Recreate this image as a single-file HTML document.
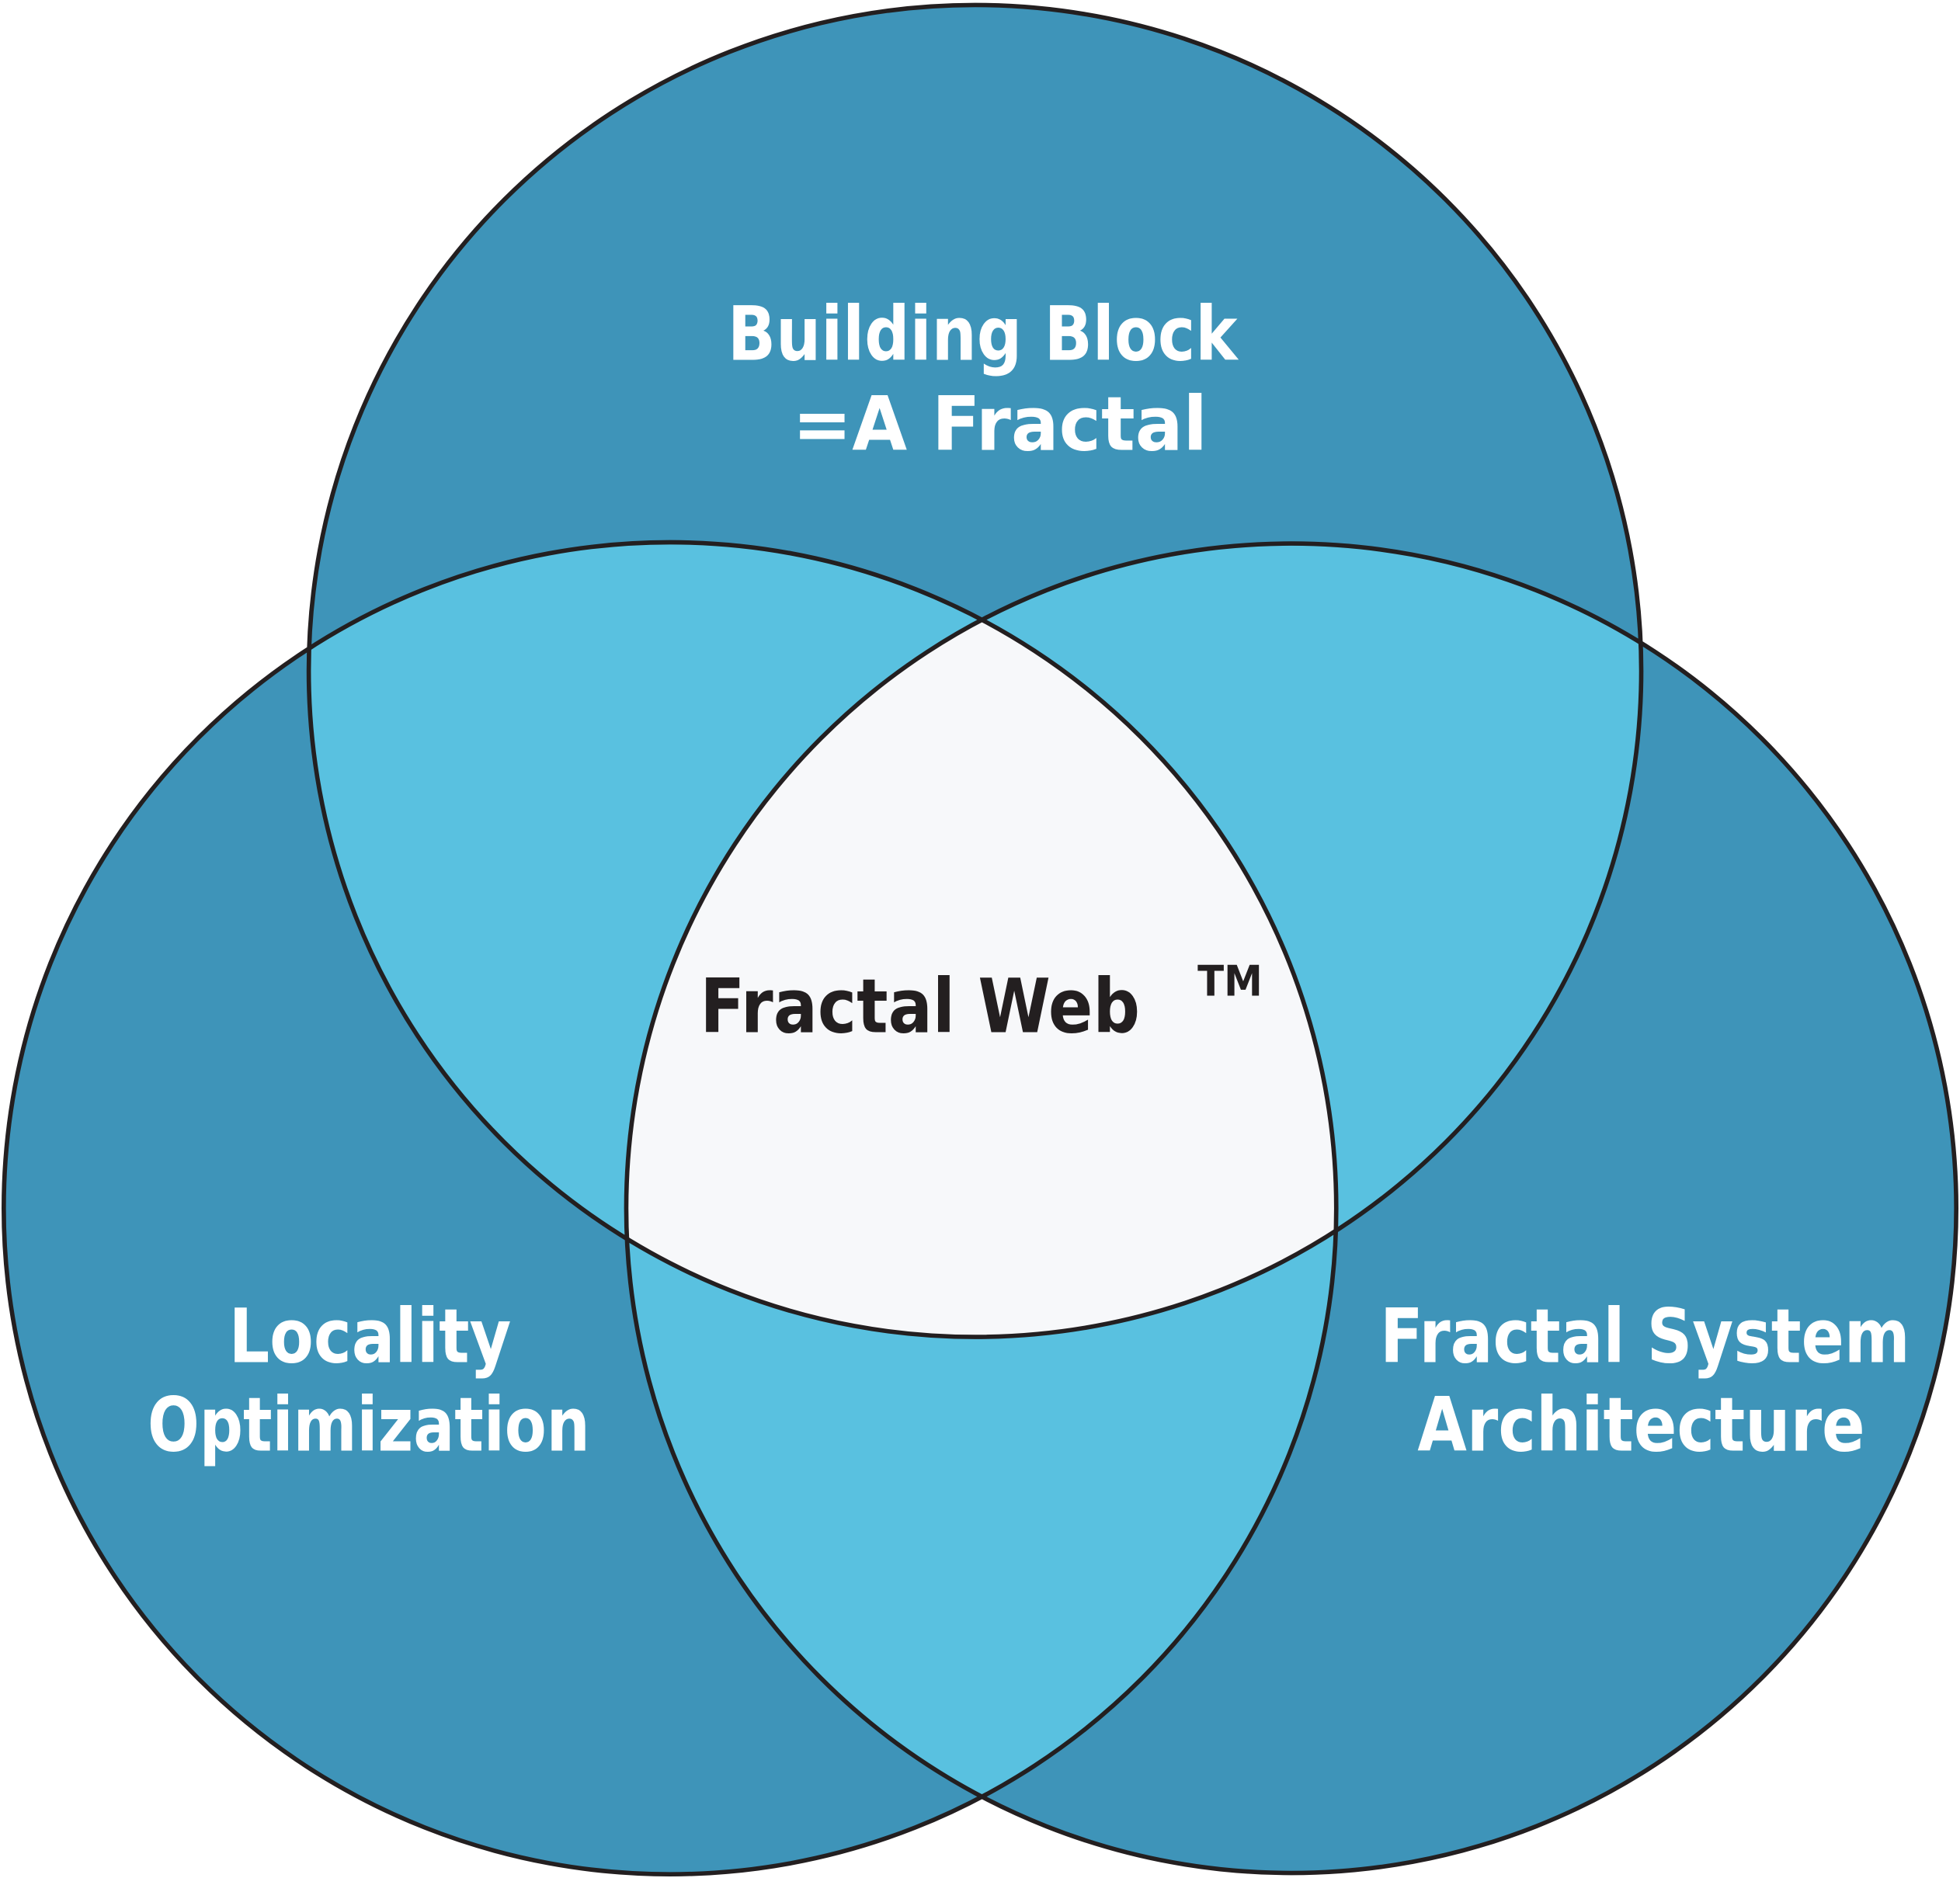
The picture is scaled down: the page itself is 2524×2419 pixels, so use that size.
<!DOCTYPE html>
<html><head><meta charset="utf-8"><style>html,body{margin:0;padding:0;background:#fff}svg{display:block}</style></head>
<body>
<svg width="2524" height="2419" viewBox="0 0 1568 1503" preserveAspectRatio="none" xmlns="http://www.w3.org/2000/svg">
<defs>
<clipPath id="cT"><circle cx="780" cy="537" r="533"/></clipPath>
<clipPath id="cL"><circle cx="536" cy="967" r="533"/></clipPath>
<clipPath id="cR"><circle cx="1033" cy="967" r="532"/></clipPath>
</defs>
<circle cx="780" cy="537" r="533" fill="#3E94B9"/>
<circle cx="536" cy="967" r="533" fill="#3E94B9"/>
<circle cx="1033" cy="967" r="532" fill="#3E94B9"/>
<g clip-path="url(#cT)"><circle cx="536" cy="967" r="533" fill="#59C1E0"/><circle cx="1033" cy="967" r="532" fill="#59C1E0"/></g>
<g clip-path="url(#cL)"><circle cx="1033" cy="967" r="532" fill="#59C1E0"/></g>
<g clip-path="url(#cT)"><g clip-path="url(#cL)"><circle cx="1033" cy="967" r="532" fill="#F7F8FA"/></g></g>
<g fill="none" stroke="#231F20" stroke-width="3.5">
<circle cx="780" cy="537" r="533"/>
<circle cx="536" cy="967" r="533"/>
<circle cx="1033" cy="967" r="532"/>
</g>
<g font-family="'DejaVu Sans','Liberation Sans',sans-serif" font-weight="bold" font-size="60" fill="#fff">
<text x="582" y="288" textLength="408" lengthAdjust="spacingAndGlyphs">Building Block</text>
<text x="634" y="360" textLength="332" lengthAdjust="spacingAndGlyphs">=A Fractal</text>
<text x="183" y="1090" textLength="226" lengthAdjust="spacingAndGlyphs">Locality</text>
<text x="118" y="1161" textLength="354" lengthAdjust="spacingAndGlyphs">Optimization</text>
<text x="1104" y="1090" textLength="424" lengthAdjust="spacingAndGlyphs">Fractal System</text>
<text x="1134" y="1161" textLength="358" lengthAdjust="spacingAndGlyphs">Architecture</text>
</g>
<g font-family="'DejaVu Sans','Liberation Sans',sans-serif" font-weight="bold" fill="#231F20">
<text x="560" y="826" font-size="60" textLength="352" lengthAdjust="spacingAndGlyphs">Fractal Web</text>
<text x="958" y="797" font-size="34" textLength="52" lengthAdjust="spacingAndGlyphs">TM</text>
</g>
</svg>
</body></html>
